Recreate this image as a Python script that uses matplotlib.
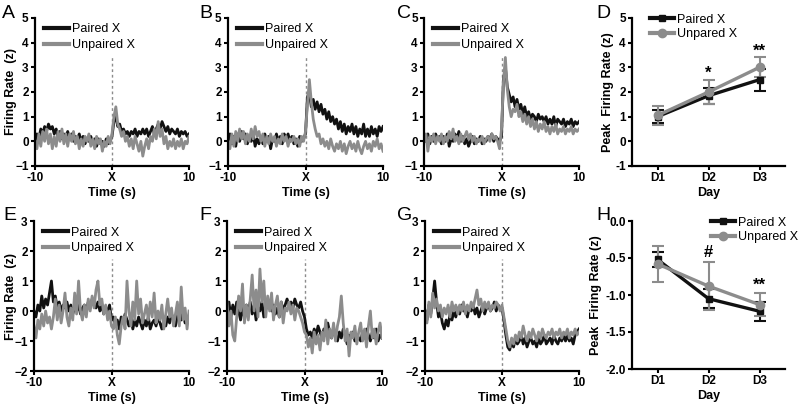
import numpy as np
import matplotlib
matplotlib.use("Agg")
import matplotlib.pyplot as plt
from matplotlib.lines import Line2D

plt.rcParams['font.family'] = ['Liberation Sans', 'DejaVu Sans']

# time bins (s), X = stimulus onset
time_s = np.arange(-10, 10.001, 0.25)

# traces (z-scored firing rate)
a_paired = [0.0, 0.3, 0.1, 0.5, 0.3, 0.6, 0.4, 0.7, 0.5,
            0.6, 0.3, 0.5, 0.2, 0.4, 0.1, 0.3, 0.2,
            0.4, 0.1, 0.3, 0.0, 0.2, 0.1, 0.3, 0.0,
            0.2, -0.1, 0.1, 0.0, 0.2, -0.1, 0.1, -0.2,
            0.1, -0.1, 0.0, -0.2, 0.1, -0.1, 0.0, 0.2,
            0.8, 1.0, 0.6, 0.7, 0.4, 0.5, 0.3, 0.4,
            0.2, 0.4, 0.3, 0.5, 0.2, 0.4, 0.3, 0.5,
            0.3, 0.5, 0.2, 0.4, 0.6, 0.3, 0.5, 0.7,
            0.5, 0.8, 0.6, 0.4, 0.6, 0.3, 0.5, 0.4,
            0.3, 0.5, 0.2, 0.4, 0.3, 0.4, 0.2, 0.3]
a_unpaired = [0.0, -0.3, 0.3, -0.2, 0.4, 0.0, 0.5, -0.1, 0.3,
              -0.3, 0.2, -0.2, 0.4, 0.0, 0.5, -0.1, 0.3,
              -0.2, 0.3, 0.0, 0.4, -0.1, 0.2, -0.3, 0.1,
              -0.2, 0.2, 0.0, 0.3, -0.2, 0.1, -0.3, 0.2,
              -0.1, 0.1, -0.4, 0.0, -0.2, 0.2, -0.1, 0.3,
              1.0, 1.4, 0.7, 0.5, 0.2, 0.4, 0.0, 0.2,
              -0.2, 0.1, -0.3, 0.2, -0.1, -0.4, 0.0, -0.6,
              -0.2, 0.1, -0.3, 0.2, 0.0, 0.5, 0.1, 0.8,
              0.2, 0.5, -0.1, 0.2, -0.3, 0.0, -0.2, 0.1,
              -0.3, 0.0, -0.2, 0.1, -0.3, 0.0, -0.1, 0.2]

b_paired = [0.0, 0.3, -0.1, 0.2, -0.2, 0.3, 0.0, 0.4, 0.1,
            0.3, -0.1, 0.2, 0.0, 0.3, -0.2, 0.1, -0.1,
            0.2, -0.1, 0.3, 0.0, 0.2, -0.3, 0.1, 0.0,
            0.3, 0.0, 0.2, -0.1, 0.3, 0.1, 0.3, 0.0,
            0.2, -0.1, 0.1, -0.2, 0.2, 0.0, 0.1, 0.3,
            1.8, 2.0, 1.4, 1.7, 1.3, 1.6, 1.2, 1.5,
            1.1, 1.3, 0.9, 1.2, 0.8, 1.0, 0.7, 0.9,
            0.5, 0.8, 0.4, 0.7, 0.3, 0.6, 0.4, 0.7,
            0.3, 0.6, 0.2, 0.5, 0.3, 0.7, 0.2, 0.5,
            0.2, 0.6, 0.3, 0.5, 0.2, 0.6, 0.4, 0.6]
b_unpaired = [0.0, -0.3, 0.3, -0.2, 0.4, 0.0, 0.5, 0.1, 0.4,
              -0.1, 0.3, 0.0, 0.5, 0.1, 0.6, 0.2, 0.4,
              0.0, 0.3, -0.2, 0.2, -0.1, 0.3, 0.0, 0.2,
              -0.2, 0.1, -0.1, 0.3, 0.0, 0.2, -0.2, 0.1,
              0.0, 0.2, -0.1, 0.1, -0.2, 0.2, 0.0, 0.4,
              1.5, 2.5, 1.6, 0.9, 0.5, 0.2, 0.3, -0.1,
              0.1, -0.2, 0.0, -0.3, 0.1, -0.2, -0.4, -0.1,
              -0.3, 0.0, -0.4, -0.1, -0.5, -0.2, 0.0, -0.3,
              -0.1, -0.4, 0.0, -0.3, -0.5, -0.2, 0.0, -0.3,
              -0.1, -0.4, 0.0, -0.2, 0.1, -0.3, -0.1, -0.4]

c_paired = [0.2, 0.0, 0.3, -0.1, 0.2, 0.0, 0.3, 0.1, 0.2,
            -0.1, 0.2, 0.0, 0.3, -0.2, 0.1, 0.0, 0.3,
            0.1, 0.4, 0.0, 0.2, -0.1, 0.1, -0.2, 0.0,
            0.2, -0.1, 0.1, 0.0, 0.2, -0.1, 0.1, 0.0,
            0.2, 0.1, 0.3, 0.0, 0.2, 0.1, 0.0, 0.2,
            2.5, 3.0, 2.2, 1.9, 1.6, 1.8, 1.4, 1.7,
            1.3, 1.5, 1.1, 1.4, 1.0, 1.2, 0.9, 1.1,
            1.0, 0.8, 1.1, 0.9, 1.0, 0.8, 1.0, 0.7,
            0.9, 0.7, 1.0, 0.6, 0.9, 0.8, 0.7, 0.9,
            0.6, 0.8, 0.7, 0.9, 0.6, 0.8, 0.7, 0.8]
c_unpaired = [0.0, 0.3, -0.4, 0.2, 0.0, 0.3, -0.1, 0.2, 0.0,
              0.3, -0.1, 0.2, 0.0, 0.4, 0.1, 0.5, 0.0,
              0.2, -0.1, 0.3, 0.0, 0.2, 0.4, 0.1, 0.3,
              0.0, 0.2, -0.1, 0.1, 0.0, 0.2, -0.1, 0.1,
              0.2, 0.0, 0.3, 0.1, 0.2, 0.0, -0.3, 0.5,
              2.4, 3.4, 2.1, 1.4, 1.0, 1.3, 1.2, 1.5,
              1.0, 1.2, 0.8, 1.1, 0.7, 1.0, 0.6, 0.9,
              0.5, 0.8, 0.4, 0.7, 0.5, 0.8, 0.4, 0.6,
              0.3, 0.6, 0.4, 0.7, 0.3, 0.5, 0.4, 0.6,
              0.3, 0.5, 0.4, 0.6, 0.3, 0.5, 0.4, 0.5]

e_paired = [0.0, -0.2, 0.2, 0.0, 0.5, 0.1, 0.4, 0.2, 0.6,
            1.0, 0.3, 0.5, 0.1, 0.3, 0.0, 0.2, 0.1,
            0.3, 0.0, 0.2, -0.1, 0.1, 0.0, 0.2, -0.1,
            0.1, 0.2, 0.0, 0.3, 0.1, 0.4, 0.2, 0.1,
            0.3, 0.0, 0.2, -0.1, 0.1, 0.0, 0.2, -0.3,
            -0.2, -0.5, -0.3, -0.6, -0.2, -0.4, -0.1, -0.3,
            -0.5, -0.2, -0.6, -0.3, -0.5, -0.2, -0.4, -0.6,
            -0.3, -0.5, -0.2, -0.6, -0.4, -0.3, -0.5, -0.2,
            -0.4, -0.6, -0.3, -0.5, -0.2, -0.4, -0.1, -0.3,
            -0.5, -0.2, 0.1, -0.3, -0.1, -0.4, -0.2, -0.3]
e_unpaired = [-0.5, -0.9, -0.3, -0.6, -0.1, -0.5, 0.0, -0.4, -0.2,
              -0.6, -0.2, 0.4, -0.3, 0.2, -0.4, 0.0, 0.6,
              -0.2, -0.5, 0.1, -0.3, 0.6, -0.1, 1.0, 0.0,
              -0.3, 0.2, -0.2, 0.4, 0.0, 0.5, 0.1, 0.7,
              1.0, 0.2, 0.4, -0.1, 0.2, -0.3, 0.0, -0.5,
              -0.6, -0.2, -0.8, -1.1, -0.5, -0.2, -0.6, 1.0,
              0.0, -0.5, 0.3, -0.3, 1.0, -0.1, 0.4, -0.4,
              -0.1, 0.2, -0.3, 0.3, -0.2, 0.6, -0.4, 0.0,
              -0.3, 0.2, -0.6, -0.1, 0.4, -0.2, 0.1, -0.5,
              -0.1, 0.3, -0.5, 0.8, -0.3, 0.1, -0.6, 0.0]

f_paired = [0.0, 0.3, -0.2, 0.2, -0.1, 0.3, 0.0, -0.3, 0.1,
            -0.2, 0.2, 0.0, 0.3, -0.1, 0.2, -0.3, 0.1,
            0.0, 0.3, -0.2, 0.2, 0.1, 0.3, 0.0, 0.2,
            -0.1, 0.1, -0.2, 0.3, 0.0, 0.2, 0.4, 0.2,
            0.3, 0.1, 0.4, 0.2, 0.1, 0.3, 0.0, -0.2,
            -0.6, -0.8, -0.7, -0.9, -0.6, -0.8, -0.5, -0.7,
            -0.9, -0.6, -0.8, -0.4, -0.7, -0.9, -0.6, -0.8,
            -1.0, -0.7, -0.9, -0.6, -0.8, -1.1, -0.8, -0.9,
            -0.7, -1.0, -0.8, -0.9, -1.0, -0.7, -0.9, -0.6,
            -0.8, -1.0, -0.7, -0.9, -0.6, -1.0, -0.8, -0.9]
f_unpaired = [0.3, -0.5, 0.0, -0.8, -1.0, -0.2, 0.5, 0.0, 0.9,
              -0.4, 0.2, -0.3, 0.4, 1.2, 0.0, 0.7, -0.2,
              1.4, 0.3, 1.0, -0.2, 0.5, 0.0, 0.6, -0.3,
              0.2, 0.5, -0.2, 0.3, -0.4, 0.1, 0.0, 0.3,
              -0.1, 0.2, -0.3, 0.1, 0.0, -0.2, -0.4, -0.7,
              -0.8, -1.2, -0.9, -1.4, -0.7, -1.1, -0.8, -1.3,
              -0.7, -1.0, -0.3, -1.1, -0.6, -0.9, -0.4, -1.0,
              -0.5, -0.2, 0.5, -0.4, -1.0, -0.6, -1.5, -0.7,
              -0.9, -0.5, -1.1, -0.7, -0.4, -1.0, -0.6, -1.2,
              -0.5, 0.0, -0.9, -0.6, -1.1, -0.7, -0.4, -0.9]

g_paired = [0.0, -0.3, 0.2, -0.1, 0.4, 1.0, 0.3, -0.2, 0.0,
            -0.4, -0.6, -0.3, -0.5, -0.1, -0.3, 0.0, -0.2,
            0.1, -0.1, 0.2, 0.0, 0.1, -0.2, 0.1, 0.0,
            0.2, -0.1, 0.1, -0.2, 0.0, 0.2, -0.1, 0.1,
            0.2, 0.0, 0.1, 0.3, 0.0, 0.2, 0.1, 0.1,
            -0.3, -0.8, -1.2, -1.3, -1.0, -1.2, -0.9, -1.1,
            -1.0, -0.8, -1.1, -0.9, -1.2, -1.0, -0.9, -1.1,
            -1.0, -1.2, -0.9, -1.1, -1.0, -0.8, -1.1, -1.0,
            -0.9, -1.1, -0.8, -1.0, -1.1, -0.9, -1.0, -0.8,
            -1.0, -0.8, -1.0, -0.9, -1.1, -0.8, -0.7, -0.6]
g_unpaired = [0.0, -0.4, 0.3, -0.2, 0.6, 0.1, 0.4, 0.0, 0.2,
              -0.2, 0.1, -0.1, 0.2, -0.2, 0.3, 0.0, 0.2,
              -0.1, 0.2, 0.0, 0.3, -0.1, 0.2, 0.0, 0.3,
              0.1, 0.4, 0.7, 0.2, 0.4, 0.0, 0.3, 0.1,
              0.3, 0.0, 0.2, 0.1, 0.3, 0.2, 0.0, 0.2,
              -0.2, -0.6, -1.0, -1.2, -0.9, -1.1, -0.8, -1.0,
              -0.7, -0.9, -0.5, -0.8, -1.0, -0.7, -0.9, -0.6,
              -0.8, -1.0, -0.7, -0.9, -0.6, -0.8, -0.9, -0.7,
              -0.8, -0.6, -0.9, -0.7, -0.8, -0.6, -0.9, -0.7,
              -0.8, -0.6, -0.9, -0.7, -0.8, -0.6, -0.8, -0.7]

# peak summaries
days = [1, 2, 3]
day_labels = ['D1', 'D2', 'D3']
d_paired = [1.0, 1.85, 2.5]
d_paired_err = [0.27, 0.33, 0.45]
d_unpaired = [1.05, 2.0, 3.0]
d_unpaired_err = [0.4, 0.5, 0.4]
d_marks = ['', '*', '**']
d_mark_y = [0, 2.75, 3.65]

h_paired = [-0.52, -1.05, -1.22]
h_paired_err = [0.1, 0.13, 0.13]
h_unpaired = [-0.58, -0.88, -1.13]
h_unpaired_err = [0.24, 0.32, 0.16]
h_marks = ['', '#', '**']
h_mark_y = [0, -0.43, -0.87]

BLACK = '#111111'
GRAY = '#8c8c8c'
TICK_FS = 8.5
LABEL_FS = 9
LEGEND_FS = 9

fig = plt.figure(figsize=(8, 4.04), dpi=100)


def px_axes(left, top, right, bottom):
    return fig.add_axes([left / 800, 1 - bottom / 404, (right - left) / 800, (bottom - top) / 404])


def style(ax):
    for s in ['top', 'right']:
        ax.spines[s].set_visible(False)
    for s in ['left', 'bottom']:
        ax.spines[s].set_linewidth(1.6)
    ax.tick_params(width=1.5, length=3, pad=1.5, labelsize=TICK_FS)
    for lab in ax.get_xticklabels() + ax.get_yticklabels():
        lab.set_fontweight('bold')


def trace_panel(left, top, right, bottom, paired, unpaired, ylim):
    ax = px_axes(left, top, right, bottom)
    ax.axvline(0, ymax=0.75, color=GRAY, lw=1, ls=(0, (2, 2)))
    ax.plot(time_s, paired, color=BLACK, lw=2.0, label='Paired X')
    ax.plot(time_s, unpaired, color=GRAY, lw=2.0, label='Unpaired X')
    ax.set_xlim(-10, 10)
    ax.set_ylim(*ylim)
    ax.set_xticks([-10, 0, 10])
    ax.set_xticklabels(['-10', 'X', '10'])
    ax.set_yticks(range(ylim[0], ylim[1] + 1))
    ax.set_xlabel('Time (s)', fontsize=LABEL_FS, fontweight='bold', labelpad=2)
    leg = ax.legend(loc='upper left', bbox_to_anchor=(0.04, 0.98), frameon=False,
                    fontsize=LEGEND_FS, handlelength=2.0, handletextpad=0.25,
                    labelspacing=0.3, borderaxespad=0, borderpad=0.2)
    for h in leg.legend_handles:
        h.set_linewidth(3)
    style(ax)
    return ax


def peak_panel(left, top, right, bottom, paired, perr, unpaired, uerr, ylim, yticks,
               marks, mark_y, leg_anchor):
    ax = px_axes(left, top, right, bottom)
    ax.errorbar(days, paired, yerr=perr, color=BLACK, marker='s', ms=5, lw=2.4,
                elinewidth=1.5, capsize=4, capthick=1.5)
    ax.errorbar(days, unpaired, yerr=uerr, color=GRAY, marker='o', ms=6, lw=2.4,
                elinewidth=1.5, capsize=4, capthick=1.5)
    for d, m, y in zip(days, marks, mark_y):
        if m:
            ax.text(d, y, m, ha='center', va='center', fontsize=12, fontweight='bold')
    ax.set_xlim(0.5, 3.5)
    ax.set_ylim(*ylim)
    ax.set_xticks(days)
    ax.set_xticklabels(day_labels)
    ax.set_yticks(yticks)
    ax.set_xlabel('Day', fontsize=LABEL_FS, fontweight='bold', labelpad=2)
    ax.set_ylabel('Peak  Firing Rate (z)', fontsize=LABEL_FS, fontweight='bold', labelpad=2)
    handles = [Line2D([], [], color=BLACK, marker='s', ms=5, lw=3),
               Line2D([], [], color=GRAY, marker='o', ms=6, lw=3)]
    ax.legend(handles, ['Paired X', 'Unpared X'], loc='upper left', bbox_to_anchor=leg_anchor,
              frameon=False, fontsize=LEGEND_FS, handlelength=1.9, handletextpad=0.25,
              labelspacing=0.2, borderaxespad=0, borderpad=0.2)
    style(ax)
    return ax


# top row
axA = trace_panel(35, 18, 189, 166, a_paired, a_unpaired, (-1, 5))
axA.set_ylabel('Firing Rate  (z)', fontsize=LABEL_FS, fontweight='bold')
axA.yaxis.set_label_coords(-0.115, 0.5)
trace_panel(228, 18, 383, 166, b_paired, b_unpaired, (-1, 5))
trace_panel(424, 18, 579, 166, c_paired, c_unpaired, (-1, 5))
axD = peak_panel(632, 18, 785, 166, d_paired, d_paired_err, d_unpaired, d_unpaired_err,
                 (-1, 5), range(-1, 6), d_marks, d_mark_y, (0.1, 1.045))
axD.yaxis.set_major_formatter(plt.FormatStrFormatter('%d'))
axD.yaxis.set_label_coords(-0.12, 0.5)

# bottom row
axE = trace_panel(34, 221, 189, 371, e_paired, e_unpaired, (-2, 3))
axE.set_ylabel('Firing Rate  (z)', fontsize=LABEL_FS, fontweight='bold')
axE.yaxis.set_label_coords(-0.11, 0.5)
trace_panel(227, 221, 382, 371, f_paired, f_unpaired, (-2, 3))
trace_panel(425, 221, 579, 371, g_paired, g_unpaired, (-2, 3))
axH = peak_panel(632, 221, 785, 369, h_paired, h_paired_err, h_unpaired, h_unpaired_err,
                 (-2, 0), [-2.0, -1.5, -1.0, -0.5, 0.0], h_marks, h_mark_y, (0.5, 1.045))
axH.yaxis.set_major_formatter(plt.FormatStrFormatter('%.1f'))
for lab in axH.get_yticklabels() + axD.get_yticklabels():
    lab.set_fontweight('bold')

# panel letters
for letter, x, y in [('A', 2, 18), ('B', 199, 18), ('C', 397, 18), ('D', 596, 18),
                     ('E', 3, 220), ('F', 199, 220), ('G', 397, 220), ('H', 596, 220)]:
    fig.text(x / 800, 1 - y / 404, letter, fontsize=14, va='baseline', ha='left')

fig.savefig('out.png', dpi=100)
